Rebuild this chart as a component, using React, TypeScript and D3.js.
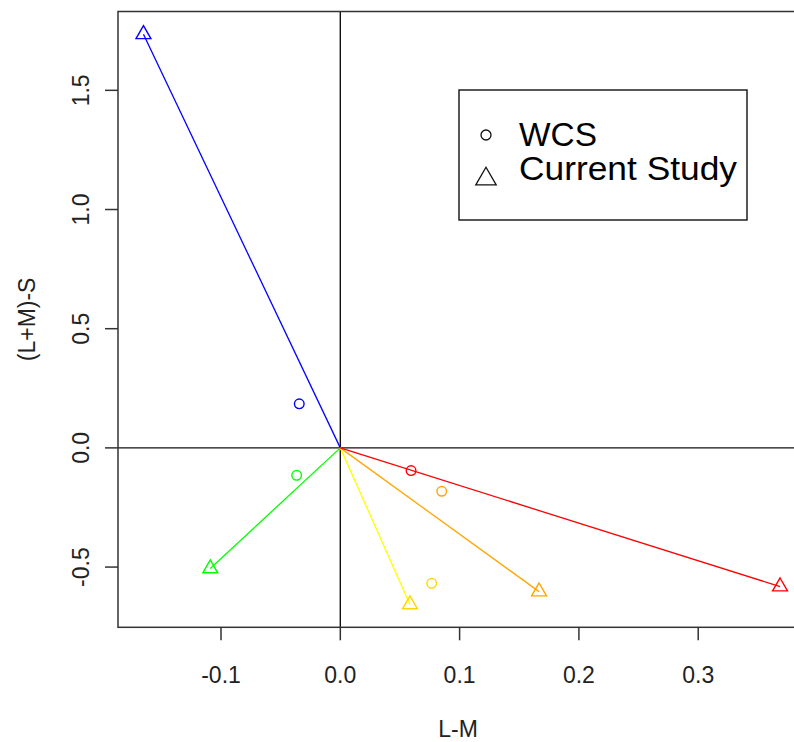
import React from "react";
import * as d3 from "d3";

const colorNames = ["blue", "green", "yellow", "orange", "red"];
const lineColors = ["#0000FF", "#00FF00", "#FFFF00", "#FFA500", "#FF0000"];
const pointColors = ["#0000FF", "#00FF00", "#FFD700", "#FFA500", "#FF0000"];
const studyX = [-0.165, -0.109, 0.0584, 0.1666, 0.3686];
const studyY = [1.735, -0.506, -0.657, -0.603, -0.582];
const wcsX = [-0.0344, -0.0366, 0.0766, 0.085, 0.0593];
const wcsY = [0.185, -0.115, -0.568, -0.182, -0.095];
const xTicks = [-0.1, 0.0, 0.1, 0.2, 0.3];
const yTicks = [-0.5, 0.0, 0.5, 1.0, 1.5];
const legendLabels = ["WCS", "Current Study"];

const W = 794;
const H = 742;
const plotLeft = 118;
const plotTop = 11.5;
const plotBottom = 627.3;

function trianglePath(cx: number, cy: number, r: number) {
  const hw = r * 0.866;
  return `M${cx},${cy - r}L${cx + hw},${cy + r / 2}L${cx - hw},${cy + r / 2}Z`;
}

const fmt = (t: number) => d3.format(".1f")(t).replace("\u2212", "-");

export default function App() {
  const allX = [...studyX, ...wcsX, 0];
  const allY = [...studyY, ...wcsY, 0];
  const xMin = d3.min(allX)!;
  const xMax = d3.max(allX)!;
  const yMin = d3.min(allY)!;
  const yMax = d3.max(allY)!;
  const xPad = (xMax - xMin) * 0.04;
  const yPad = (yMax - yMin) * 0.04;
  const xDom: [number, number] = [xMin - xPad, xMax + xPad];
  const yDom: [number, number] = [yMin - yPad, yMax + yPad];
  const plotRight = plotLeft + (xDom[1] - xDom[0]) * 1193;
  const x = d3.scaleLinear().domain(xDom).range([plotLeft, plotRight]);
  const y = d3.scaleLinear().domain(yDom).range([plotBottom, plotTop]);

  const font = "'Liberation Sans', Arial, sans-serif";
  const tickFs = 23;
  const frameColor = "#333";

  return (
    <svg
      width={W}
      height={H}
      style={{ position: "absolute", left: 0, top: 0, background: "#fff" }}
      fontFamily={font}
    >
      <rect x={0} y={0} width={W} height={H} fill="#fff" />
      <line x1={plotLeft} x2={plotRight} y1={y(0)} y2={y(0)} stroke="#111" strokeWidth={1.4} />
      <line x1={x(0)} x2={x(0)} y1={plotTop} y2={plotBottom} stroke="#111" strokeWidth={1.4} />
      {studyX.map((sx, i) => (
        <line
          key={"l" + colorNames[i]}
          x1={x(0)}
          y1={y(0)}
          x2={x(sx)}
          y2={y(studyY[i])}
          stroke={lineColors[i]}
          strokeWidth={1.3}
        />
      ))}
      {studyX.map((sx, i) => (
        <path
          key={"t" + colorNames[i]}
          d={trianglePath(x(sx), y(studyY[i]), 8.6)}
          fill="none"
          stroke={pointColors[i]}
          strokeWidth={1.4}
        />
      ))}
      {wcsX.map((wx, i) => (
        <circle
          key={"c" + colorNames[i]}
          cx={x(wx)}
          cy={y(wcsY[i])}
          r={4.8}
          fill="none"
          stroke={pointColors[i]}
          strokeWidth={1.4}
        />
      ))}
      <rect
        x={plotLeft}
        y={plotTop}
        width={plotRight - plotLeft}
        height={plotBottom - plotTop}
        fill="none"
        stroke={frameColor}
        strokeWidth={1.5}
      />
      {xTicks.map((t) => (
        <g key={"xt" + t}>
          <line x1={x(t)} x2={x(t)} y1={plotBottom} y2={plotBottom + 13} stroke={frameColor} strokeWidth={1.5} />
          <text x={x(t)} y={683} textAnchor="middle" fontSize={tickFs} fill="#222">
            {fmt(t)}
          </text>
        </g>
      ))}
      {yTicks.map((t) => (
        <g key={"yt" + t}>
          <line x1={plotLeft - 13} x2={plotLeft} y1={y(t)} y2={y(t)} stroke={frameColor} strokeWidth={1.5} />
          <text
            transform={`translate(89,${y(t)}) rotate(-90)`}
            textAnchor="middle"
            fontSize={tickFs}
            fill="#222"
          >
            {fmt(t)}
          </text>
        </g>
      ))}
      <text x={(plotLeft + W) / 2 + 2} y={737} textAnchor="middle" fontSize={tickFs} fill="#222">
        L-M
      </text>
      <text
        transform={`translate(35,${(plotTop + plotBottom) / 2}) rotate(-90)`}
        textAnchor="middle"
        fontSize={tickFs}
        fill="#222"
      >
        (L+M)-S
      </text>
      <rect x={459} y={90} width={288} height={130} fill="#fff" stroke="#111" strokeWidth={1.4} />
      <circle cx={486} cy={135} r={5} fill="none" stroke="#111" strokeWidth={1.3} />
      <path d={trianglePath(486, 179, 11.8)} fill="none" stroke="#111" strokeWidth={1.3} />
      <text x={519} y={146} fontSize={33} fill="#000" textLength={78} lengthAdjust="spacingAndGlyphs">
        {legendLabels[0]}
      </text>
      <text x={519} y={180} fontSize={33} fill="#000" textLength={218} lengthAdjust="spacingAndGlyphs">
        {legendLabels[1]}
      </text>
    </svg>
  );
}
